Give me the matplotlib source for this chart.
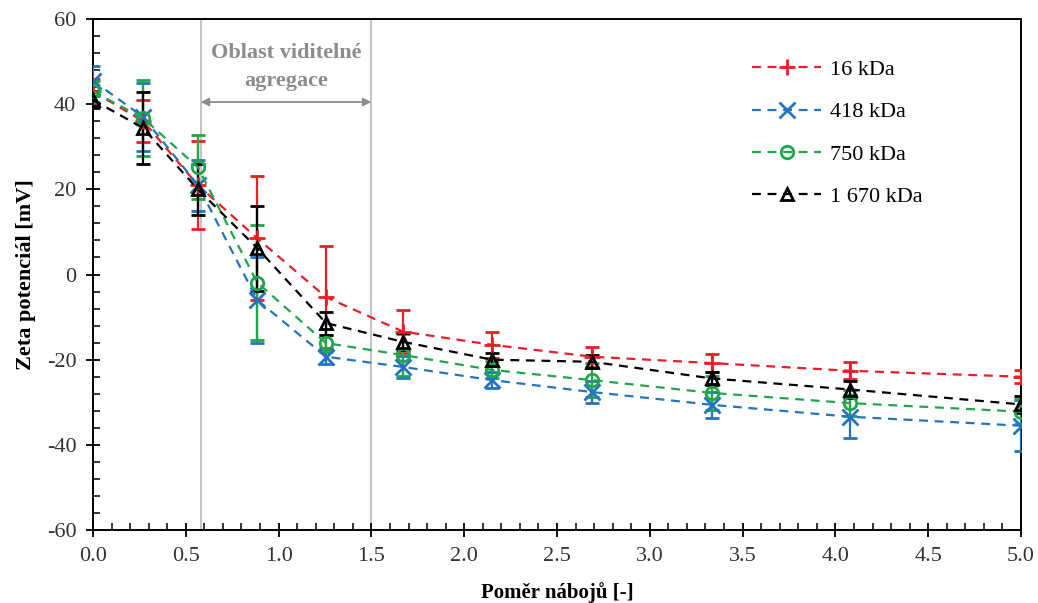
import matplotlib.pyplot as plt
from matplotlib.ticker import MultipleLocator, FormatStrFormatter

plt.rcParams['font.family'] = ['Liberation Serif', 'DejaVu Serif']
plt.rcParams['axes.unicode_minus'] = False

# charge ratio
x = [0.0, 0.27, 0.565, 0.885, 1.255, 1.67, 2.15, 2.69, 3.335, 4.08, 5.0]

z_16 = [43, 36, 21, 8.5, -5.3, -13.4, -16.5, -19.3, -20.8, -22.6, -24]
e_16 = [3, 5, 10.3, 14.6, 12, 5, 3, 2.3, 2.2, 2, 1.5]

z_418 = [45.5, 37, 21, -6, -19.3, -21.7, -24.8, -27.6, -30.6, -33.4, -35.5]
e_418 = [3.5, 8, 6, 10, 1.8, 2.5, 1.8, 2.6, 3, 5, 6]

z_750 = [43, 36.7, 25.2, -1.9, -16.1, -18.9, -22.4, -24.8, -27.8, -30.2, -32.2]
e_750 = [2.5, 8.9, 7.5, 13.5, 2, 5, 2, 4, 4, 3, 3]

z_1670 = [41, 34.4, 20, 6.2, -11.4, -15.8, -20, -20.5, -24.4, -27, -30.5]
e_1670 = [2, 8.5, 6, 10, 2.7, 2, 1.5, 1.5, 1.5, 2, 2]

labels = ['16 kDa', '418 kDa', '750 kDa', '1 670 kDa']
colors = ['#ee1c24', '#2273c3', '#1fa64a', '#000000']
markers = ['+', 'x', 'o', '^']

fig = plt.figure(figsize=(10.38, 6.03), dpi=100)
ax = fig.add_axes([0.0896, 0.121, 0.894, 0.8475])

# region of visible aggregation
ax.axvline(0.58, color='#c4c4c4', lw=1.5, zorder=1)
ax.axvline(1.5, color='#c4c4c4', lw=1.5, zorder=1)
ax.annotate('', xy=(0.58, 40.5), xytext=(1.5, 40.5),
            arrowprops=dict(arrowstyle='<|-|>', color='#8c8c8c', lw=1.3,
                            mutation_scale=12, shrinkA=0, shrinkB=0))
ax.text(1.04, 48.7, 'Oblast viditelné\nagregace', ha='center', va='center',
        fontsize=16, fontweight='bold', color='#8c8c8c', linespacing=1.55)

series = [(z_16, e_16), (z_418, e_418), (z_750, e_750), (z_1670, e_1670)]
for (z, e), lab, c, m in zip(series, labels, colors, markers):
    ax.errorbar(x, z, yerr=e, color=c, ls=(0, (4, 3)), lw=1.6,
                marker=m, ms=11 if m in '+x' else 9, mew=2,
                mfc='none', capsize=5, elinewidth=1.6, capthick=1.6,
                label=lab, zorder=3)

ax.set_xlim(0, 5)
ax.set_ylim(-60, 60)
ax.xaxis.set_major_locator(MultipleLocator(0.5))
ax.xaxis.set_minor_locator(MultipleLocator(0.1))
ax.yaxis.set_major_locator(MultipleLocator(20))
ax.yaxis.set_minor_locator(MultipleLocator(4))
ax.xaxis.set_major_formatter(FormatStrFormatter('%.1f'))
ax.tick_params(which='major', direction='inout', length=10, width=1.3,
               labelsize=16, labelcolor='#333333', pad=7)
ax.tick_params(which='minor', direction='in', length=5, width=1.1)
for s in ax.spines.values():
    s.set_linewidth(1.4)

ax.set_xlabel('Poměr nábojů [-]', fontsize=15, fontweight='bold', labelpad=12)
ax.set_ylabel('Zeta potenciál [mV]', fontsize=16, fontweight='bold', labelpad=8)

handles, labs = ax.get_legend_handles_labels()
handles = [h[0] for h in handles]
ax.legend(handles, labs, loc='upper left', bbox_to_anchor=(0.689, 0.96),
          frameon=False, fontsize=16, handlelength=3.1, labelspacing=0.98,
          handletextpad=0.4)

fig.savefig('out.png', dpi=100)
